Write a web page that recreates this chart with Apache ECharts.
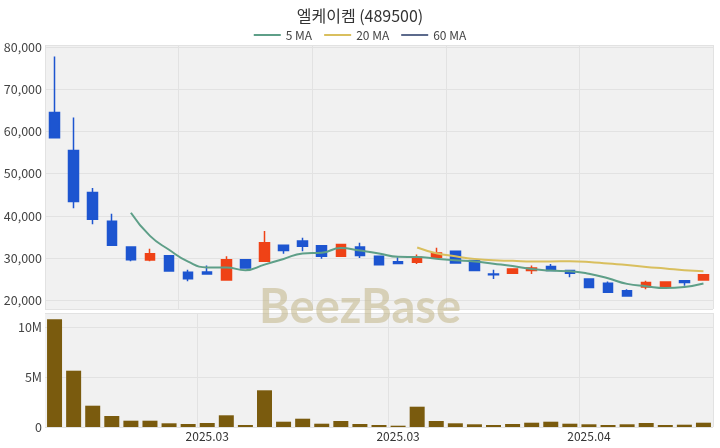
<!DOCTYPE html>
<html>
<head>
<meta charset="utf-8">
<script src="https://cdn.jsdelivr.net/npm/echarts@6/dist/echarts.min.js"></script>
<style>
html,body{margin:0;padding:0;background:#fff;}
#chart{width:720px;height:448px;}
</style>
</head>
<body>
<div id="chart"></div>
<script>
const dates = ['2025-02-19','2025-02-20','2025-02-21','2025-02-24','2025-02-25','2025-02-26','2025-02-27','2025-02-28',
  '2025-03-04','2025-03-05','2025-03-06','2025-03-07','2025-03-10','2025-03-11','2025-03-12','2025-03-13','2025-03-14',
  '2025-03-17','2025-03-18','2025-03-19','2025-03-20','2025-03-21','2025-03-24','2025-03-25','2025-03-26','2025-03-27',
  '2025-03-28','2025-03-31','2025-04-01','2025-04-02','2025-04-03','2025-04-04','2025-04-07','2025-04-08','2025-04-09'];
const opens  = [64500,55500,45500,38700,32600,29500,30500,26600,26700,24800,29600,29200,33000,34000,32900,30400,32600,30400,29100,29000,30200,31600,29400,26200,26400,27000,28000,27000,25000,24000,22200,23100,23100,24600,24800];
const closes = [58500,43400,39200,33000,29600,31000,26900,25100,26200,29600,27600,33600,31800,32800,30400,33200,30600,28400,28700,30200,31200,28800,27000,26000,27400,27600,27000,26400,23000,21900,21000,24200,24300,24200,26000];
const lows   = [58500,41800,38000,33000,29200,29200,26900,24500,26200,24800,27600,29200,31000,31600,29800,30400,30000,28400,28700,28600,30000,28800,27000,25000,26400,26200,27000,25400,23000,21900,21000,22600,23100,23400,24600];
const highs  = [77800,63300,46600,40500,32700,32200,30600,27200,28200,30400,29600,36400,33000,34800,33000,33200,33600,30400,30200,30800,32400,31800,29400,27200,27400,28200,28600,27100,25000,24400,22600,24600,24300,24600,26000];
const volumes = [10770000,5630000,2130000,1100000,630000,630000,370000,300000,400000,1170000,200000,3670000,530000,830000,330000,600000,300000,200000,130000,2030000,600000,370000,270000,200000,300000,430000,530000,330000,270000,200000,270000,400000,200000,230000,430000];
const maPeriods = [5, 20, 60];
const maColors = ['#5e9f88', '#d9bf5e', '#5c6a8c'];

function movingAverage(n) {
  return closes.map((c, i) => {
    if (i < n - 1) return '-';
    let s = 0;
    for (let k = i - n + 1; k <= i; k++) s += closes[k];
    return Math.round(s / n);
  });
}

const candleData = dates.map((d, i) => [opens[i], closes[i], lows[i], highs[i]]);
const labelFont = "'Noto Sans CJK KR', 'Noto Sans', sans-serif";
const volLabelIdx = (i) => i % 10 === 8;

const chart = echarts.init(document.getElementById('chart'));
const option = {
  animation: false,
  backgroundColor: '#ffffff',
  title: {
    text: '엘케이켐 (489500)',
    left: 'center',
    top: 3,
    textStyle: {fontFamily: labelFont, fontSize: 16, fontWeight: 'normal', color: '#333'}
  },
  legend: {
    top: 24,
    left: 'center',
    icon: 'rect',
    itemWidth: 27,
    itemHeight: 2,
    itemGap: 12,
    textStyle: {fontFamily: labelFont, fontSize: 12, color: '#444'},
    data: maPeriods.map(p => p + ' MA')
  },
  graphic: [{
    type: 'text',
    left: 'center',
    top: 284,
    z: 100,
    style: {
      text: 'BeezBase',
      font: "bold 47px Lato, 'Open Sans', sans-serif",
      fill: 'rgba(190,175,125,0.5)'
    }
  }],
  grid: [
    {left: 45, right: 7, top: 45, height: 264, show: true, backgroundColor: '#f1f1f1', borderWidth: 0},
    {left: 45, right: 7, top: 313, height: 114, show: true, backgroundColor: '#f1f1f1', borderWidth: 0}
  ],
  xAxis: [
    {
      type: 'category', gridIndex: 0, data: dates, boundaryGap: true,
      axisLine: {show: false}, axisTick: {show: false}, axisLabel: {show: false},
      splitLine: {show: true, interval: 6, lineStyle: {color: '#e2e2e2', width: 1}}
    },
    {
      type: 'category', gridIndex: 1, data: dates, boundaryGap: true,
      axisLine: {show: false}, axisTick: {show: false},
      axisLabel: {
        interval: volLabelIdx, margin: 3,
        fontFamily: labelFont, fontSize: 12, color: '#333',
        formatter: (v) => v.slice(0, 4) + '.' + v.slice(5, 7)
      },
      splitLine: {show: true, interval: volLabelIdx, lineStyle: {color: '#e2e2e2', width: 1}}
    }
  ],
  yAxis: [
    {
      type: 'value', gridIndex: 0, min: 17900, max: 80500, splitNumber: 5,
      axisLine: {show: false}, axisTick: {show: false},
      axisLabel: {
        margin: 3, showMinLabel: false, showMaxLabel: false,
        fontFamily: labelFont, fontSize: 12.5, color: '#444',
        formatter: (v) => v.toLocaleString('en-US')
      },
      splitLine: {lineStyle: {color: '#e2e2e2', width: 1}}
    },
    {
      type: 'value', gridIndex: 1, min: 0, max: 11400000, splitNumber: 2,
      axisLine: {show: false}, axisTick: {show: false},
      axisLabel: {
        margin: 3, showMaxLabel: false,
        fontFamily: labelFont, fontSize: 12.5, color: '#444',
        formatter: (v) => v === 0 ? '0' : (v / 1000000) + 'M'
      },
      splitLine: {lineStyle: {color: '#e2e2e2', width: 1}}
    }
  ],
  series: [
    {
      name: 'candle', type: 'candlestick', xAxisIndex: 0, yAxisIndex: 0,
      data: candleData, barWidth: 10,
      itemStyle: {
        color: '#ef4216', color0: '#1d55d0',
        borderColor: '#ef4216', borderColor0: '#1d55d0', borderWidth: 1.5
      }
    },
    ...maPeriods.map((p, k) => ({
      name: p + ' MA', type: 'line', xAxisIndex: 0, yAxisIndex: 0,
      data: movingAverage(p), showSymbol: false, symbol: 'none', smooth: true,
      lineStyle: {color: maColors[k], width: 2}, itemStyle: {color: maColors[k]}
    })),
    {
      name: 'volume', type: 'bar', xAxisIndex: 1, yAxisIndex: 1,
      data: volumes, barWidth: 15,
      itemStyle: {color: '#7a5b0e'}
    }
  ]
};
chart.setOption(option);
</script>
</body>
</html>
